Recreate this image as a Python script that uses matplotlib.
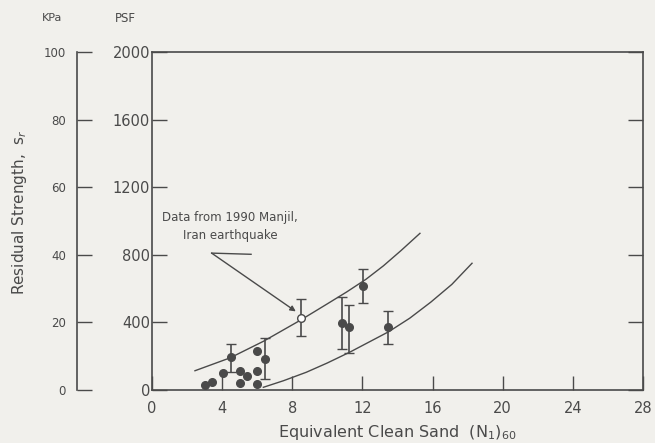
import matplotlib
matplotlib.use("Agg")
import matplotlib.pyplot as plt

# plain points (N1)60 vs residual strength in psf
pts_x = [3.0, 3.4, 4.03, 5.02, 5.4, 5.02, 6.0, 6.0, 5.97]
pts_y = [30, 45, 103, 114, 83, 39, 233, 114, 35]

# points with error bars
err_x = [4.49, 6.44, 10.81, 11.25, 12.05, 13.44]
err_y = [193, 181, 394, 371, 615, 375]
err_lo = [108, 63, 241, 221, 513, 272]
err_hi = [272, 310, 548, 503, 716, 469]

# Manjil 1990 point (open circle)
manjil_x = 8.48
manjil_y = 428
manjil_lo = 320
manjil_hi = 538

# bounding curves
upper_x = [2.45, 4.45, 6.35, 8.48, 10.0, 11.1, 12.2, 13.2, 14.2, 15.28]
upper_y = [114, 190, 288, 414, 510, 580, 655, 735, 825, 927]
lower_x = [6.35, 7.5, 8.8, 10.0, 11.3, 12.4, 13.5, 14.7, 15.9, 17.1, 18.25]
lower_y = [16, 55, 105, 160, 225, 285, 345, 425, 520, 625, 750]

xticks = [0, 4, 8, 12, 16, 20, 24, 28]
yticks = [0, 400, 800, 1200, 1600, 2000]
kpa_ticks = [0, 20, 40, 60, 80, 100]

bg = "#f1f0ec"
ink = "#4a4a4a"

fig = plt.figure(figsize=(6.55, 4.43), dpi=100, facecolor=bg)
ax = fig.add_axes([152/655, 1-390/443, 491/655, 338/443], facecolor=bg)

ax.plot(upper_x, upper_y, color=ink, lw=1.0)
ax.plot(lower_x, lower_y, color=ink, lw=1.0)

ax.plot(pts_x, pts_y, "o", color=ink, ms=5.5)
yerr = [[y - lo for y, lo in zip(err_y, err_lo)],
        [hi - y for y, hi in zip(err_y, err_hi)]]
ax.errorbar(err_x, err_y, yerr=yerr, fmt="o", color=ink, ms=5.5,
            ecolor=ink, elinewidth=1.2, capsize=3.5, capthick=1.0)
ax.errorbar([manjil_x], [manjil_y],
            yerr=[[manjil_y - manjil_lo], [manjil_hi - manjil_y]],
            fmt="o", color=ink, mfc="white", mec=ink, ms=5.5,
            ecolor=ink, elinewidth=1.2, capsize=3.5, capthick=1.0, zorder=5)

# annotation with bent leader
ax.text(4.45, 968, "Data from 1990 Manjil,\nIran earthquake", ha="center",
        va="center", fontsize=8.5, color=ink, linespacing=1.45)
ax.plot([5.65, 3.4], [803, 810], color=ink, lw=1.0)
ax.annotate("", xy=(8.2, 465), xytext=(3.4, 810),
            arrowprops=dict(arrowstyle="-|>", color=ink, lw=1.0,
                            mutation_scale=8, shrinkA=0, shrinkB=0))

ax.set_xlim(0, 28)
ax.set_ylim(0, 2000)
ax.set_xticks(xticks)
ax.set_yticks(yticks)
for s in ax.spines.values():
    s.set_color(ink)
    s.set_linewidth(1.2)
ax.tick_params(axis="x", direction="in", length=10, width=1.0, colors=ink,
               labelsize=10.5, pad=8)
ax.tick_params(axis="y", direction="in", length=11, width=1.0,
               colors=ink, labelsize=10.5, pad=1.5, right=True)
ax.set_xlabel("Equivalent Clean Sand  (N$_1$)$_{60}$", fontsize=11.5,
              color=ink, labelpad=5)

# kPa scale on a separate line to the left
ax2 = ax.secondary_yaxis(-0.153, functions=(lambda p: p / 20, lambda k: k * 20))
ax2.set_yticks(kpa_ticks)
ax2.spines["left"].set_color(ink)
ax2.spines["left"].set_linewidth(1.2)
ax2.tick_params(direction="in", length=11, width=1.0, colors=ink,
                labelsize=8.5, pad=8)

fig.text(52/655, 1-18/443, "KPa", fontsize=8, color=ink, ha="center", va="center")
fig.text(125/655, 1-18/443, "PSF", fontsize=8.5, color=ink, ha="center", va="center")
fig.text(20/655, 1-212/443, "Residual Strength,  s$_r$", fontsize=11,
         color=ink, rotation=90, ha="center", va="center")

fig.savefig("out.png", dpi=100, facecolor=bg)
